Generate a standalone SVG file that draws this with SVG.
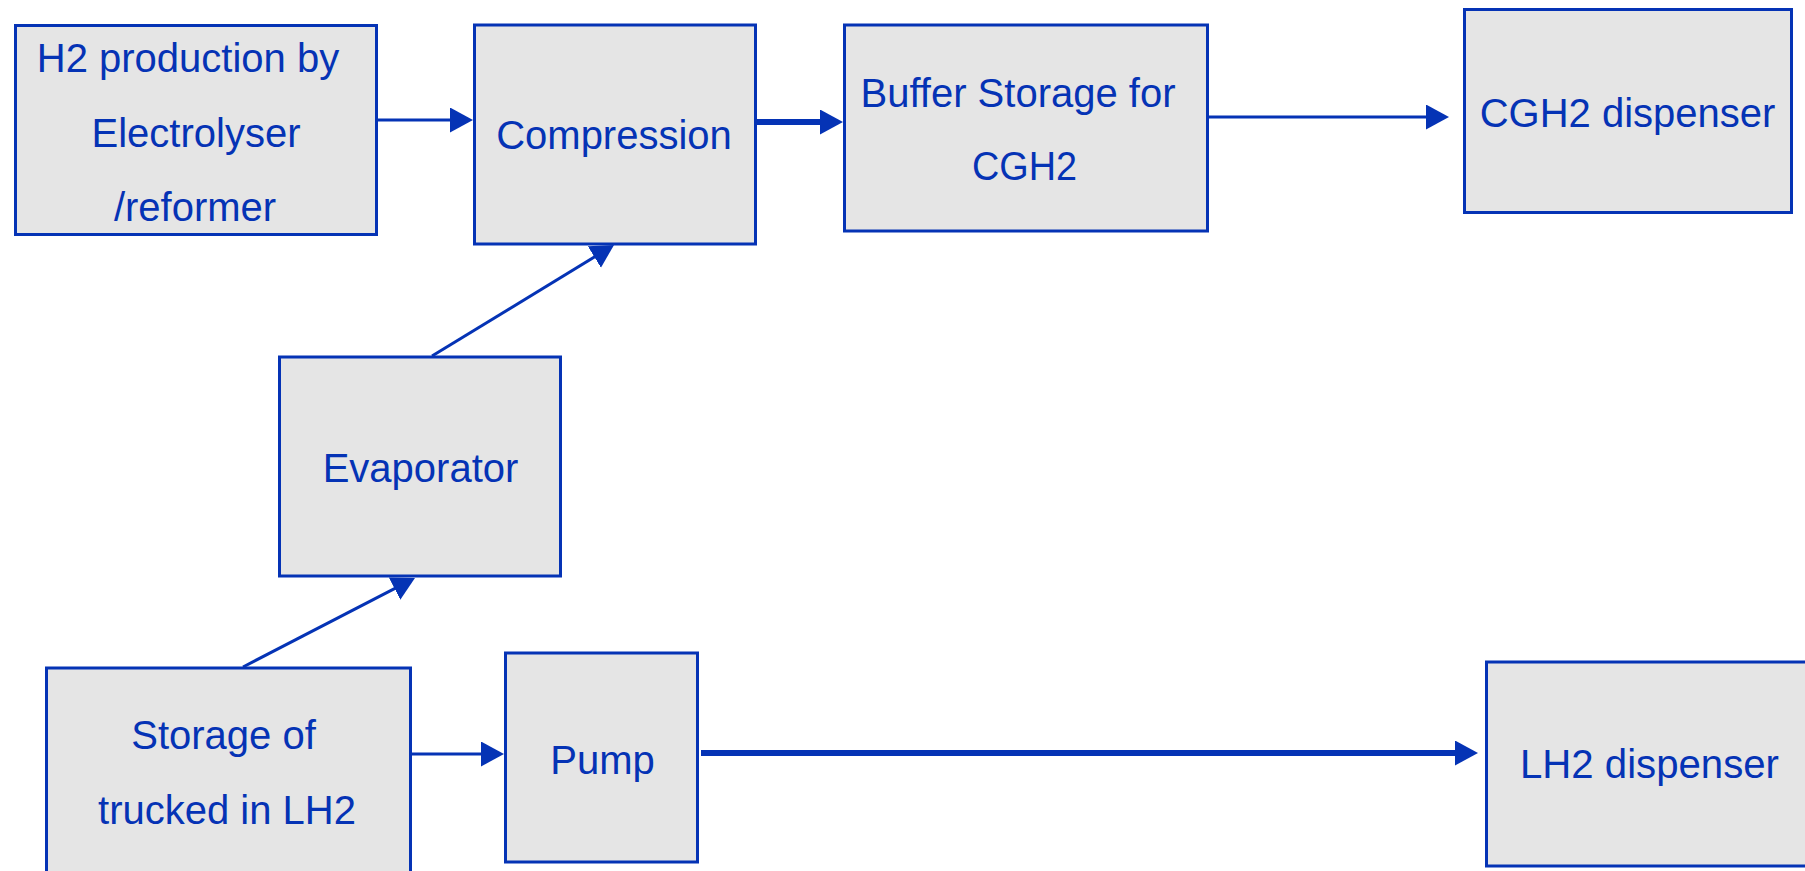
<svg xmlns="http://www.w3.org/2000/svg" width="1805" height="871" viewBox="0 0 1805 871">
  <style>
    .box { fill: #E5E5E5; stroke: #0533B5; stroke-width: 3; }
    .lbl { font-family: "Liberation Sans", Arial, sans-serif; font-size: 40px; fill: #0533B5; text-anchor: middle; }
    .ln { stroke: #0533B5; stroke-width: 3; fill: none; }
    .thick { stroke-width: 6; }
  </style>
  <defs>
    <!-- arrowhead: tip sits 10px past the line end so thick strokes stay hidden -->
    <marker id="head" markerUnits="userSpaceOnUse" markerWidth="24" markerHeight="26" refX="13" refY="12.5" orient="auto">
      <path d="M0,0 L23,12.5 L0,25 z" fill="#0533B5"/>
    </marker>
  </defs>
  <rect width="1805" height="871" fill="#FFFFFF"/>

  <g id="connectors">
    <line class="ln" x1="378" y1="120" x2="463" y2="120" marker-end="url(#head)"/>
    <line class="ln thick" x1="750" y1="122" x2="833" y2="122" marker-end="url(#head)"/>
    <line class="ln" x1="1209" y1="117" x2="1439" y2="117" marker-end="url(#head)"/>
    <line class="ln" x1="432" y1="356" x2="605.5" y2="250.2" marker-end="url(#head)"/>
    <line class="ln" x1="243" y1="667" x2="406.1" y2="582.6" marker-end="url(#head)"/>
    <line class="ln" x1="411" y1="754" x2="494" y2="754" marker-end="url(#head)"/>
    <line class="ln thick" x1="701" y1="753" x2="1468" y2="753" marker-end="url(#head)"/>
  </g>

  <g id="h2-production">
    <rect class="box" x="15.5" y="25.5" width="361" height="209"/>
    <text class="lbl" x="188" y="72">H2 production by</text>
    <text class="lbl" x="196" y="147">Electrolyser</text>
    <text class="lbl" x="195" y="221">/reformer</text>
  </g>

  <g id="compression">
    <rect class="box" x="474.5" y="25" width="281" height="219"/>
    <text class="lbl" x="614" y="149">Compression</text>
  </g>

  <g id="buffer-storage">
    <rect class="box" x="844.5" y="25" width="363" height="206"/>
    <text class="lbl" x="1018" y="107">Buffer Storage for</text>
    <text class="lbl" x="1024.5" y="180" textLength="105" lengthAdjust="spacingAndGlyphs">CGH2</text>
  </g>

  <g id="cgh2-dispenser">
    <rect class="box" x="1464.5" y="9.5" width="327" height="203"/>
    <text class="lbl" x="1627.5" y="127">CGH2 dispenser</text>
  </g>

  <g id="evaporator">
    <rect class="box" x="279.5" y="357" width="281" height="219"/>
    <text class="lbl" x="420.5" y="482">Evaporator</text>
  </g>

  <g id="lh2-storage">
    <rect class="box" x="46.5" y="668" width="364" height="215"/>
    <text class="lbl" x="223.5" y="749">Storage of</text>
    <text class="lbl" x="227" y="824">trucked in LH2</text>
  </g>

  <g id="pump">
    <rect class="box" x="505.5" y="653" width="192" height="209"/>
    <text class="lbl" x="602.5" y="774">Pump</text>
  </g>

  <g id="lh2-dispenser">
    <rect class="box" x="1486.5" y="662" width="330" height="204"/>
    <text class="lbl" x="1649.5" y="778" textLength="259" lengthAdjust="spacingAndGlyphs">LH2 dispenser</text>
  </g>
</svg>
